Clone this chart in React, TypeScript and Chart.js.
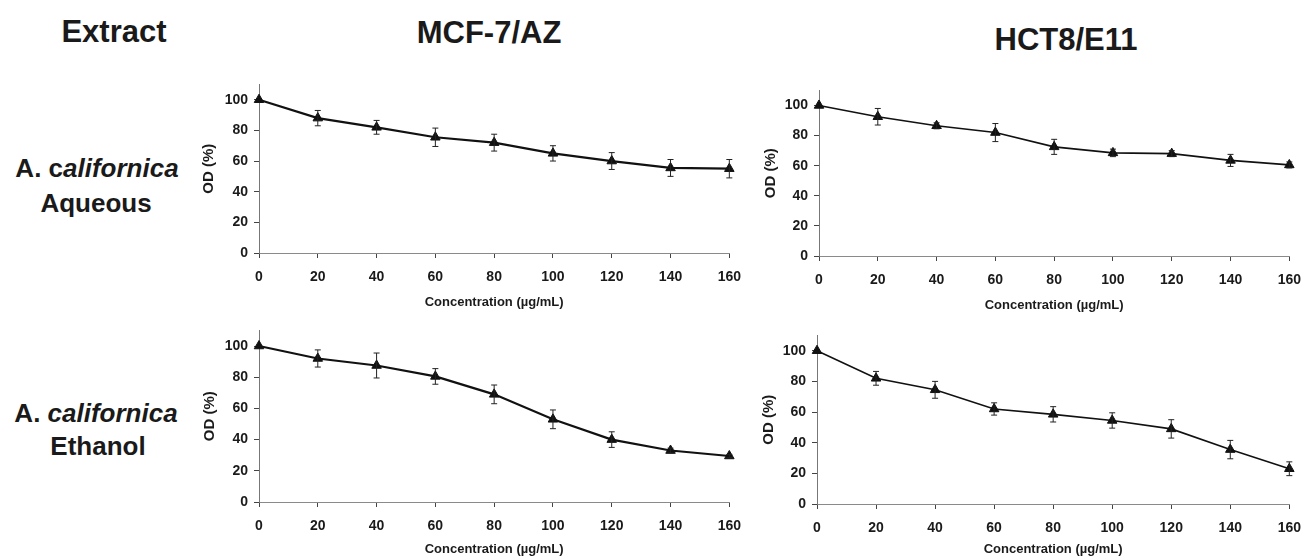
import React, { useEffect, useRef } from "react";
import { Chart, registerables } from "chart.js";

Chart.register(...registerables);

// ---------------- data ----------------
const concentrations = [0, 20, 40, 60, 80, 100, 120, 140, 160];

const mcfAqueous = [100, 88, 82, 75.5, 72, 65, 60, 55.5, 55];
const mcfAqueousErr = [0, 5, 4.5, 6, 5.5, 5, 5.5, 5.5, 6];

const hctAqueous = [100, 92.5, 86.5, 82, 72.5, 68.5, 68, 63.5, 60.5];
const hctAqueousErr = [0, 5.5, 2, 6, 5, 2.5, 2, 4, 2];

const mcfEthanol = [100, 92, 87.5, 80.5, 69, 53, 40, 33, 29.5];
const mcfEthanolErr = [0, 5.5, 8, 5, 6, 6, 5, 1.5, 1];

const hctEthanol = [100, 82, 74.5, 62, 58.5, 54.5, 49, 35.5, 23];
const hctEthanolErr = [0, 4.5, 5.5, 4, 5, 5, 6, 6, 4.5];

const columnTitles = ["MCF-7/AZ", "HCT8/E11"];
const xAxisTitle = "Concentration (\u00b5g/mL)";
const yAxisTitle = "OD (%)";

const FONT = '"Liberation Sans", Arial, Helvetica, sans-serif';

type PanelDef = {
  values: number[];
  errors: number[];
  L: number; // plot left (x = 0)
  R: number; // plot right (x = 160)
  T: number; // plot top (y = 110)
  B: number; // plot bottom (y = 0)
  YX: number; // y title centre x
  XT: number; // x title centre y
  lineWidth: number;
};

const panels: PanelDef[] = [
  { values: mcfAqueous, errors: mcfAqueousErr, L: 259, R: 737, T: 80, B: 253, YX: 209, XT: 302, lineWidth: 2.2 },
  { values: hctAqueous, errors: hctAqueousErr, L: 819, R: 1299, T: 85.5, B: 256, YX: 771, XT: 305, lineWidth: 1.6 },
  { values: mcfEthanol, errors: mcfEthanolErr, L: 259, R: 737, T: 326, B: 502, YX: 210, XT: 549, lineWidth: 2.2 },
  { values: hctEthanol, errors: hctEthanolErr, L: 817, R: 1297, T: 331, B: 504, YX: 769, XT: 549, lineWidth: 1.6 },
];

function Panel({ def }: { def: PanelDef }) {
  const ref = useRef<HTMLCanvasElement>(null);
  const CL = def.YX - 20;
  const CT = def.T - 10;
  const CR = Math.min(1312, def.R + 15);
  const CB = def.XT + 12;

  useEffect(() => {
    const canvas = ref.current;
    if (!canvas) return;
    const errorBars = {
      id: "errorBars",
      afterDatasetsDraw(chart: any) {
        const ctx = chart.ctx;
        const xs = chart.scales.x;
        const ys = chart.scales.y;
        ctx.save();
        ctx.strokeStyle = "#222";
        ctx.lineWidth = 1;
        concentrations.forEach((c, i) => {
          const e = def.errors[i];
          if (!e) return;
          const x = xs.getPixelForValue(c);
          const yt = ys.getPixelForValue(def.values[i] + e);
          const yb = ys.getPixelForValue(def.values[i] - e);
          ctx.beginPath();
          ctx.moveTo(x, yt);
          ctx.lineTo(x, yb);
          ctx.moveTo(x - 3, yt);
          ctx.lineTo(x + 3, yt);
          ctx.moveTo(x - 3, yb);
          ctx.lineTo(x + 3, yb);
          ctx.stroke();
        });
        ctx.restore();
      },
    };

    const tickFont = { family: FONT, size: 14, weight: "bold" as const };
    const chart = new Chart(canvas, {
      type: "line",
      data: {
        datasets: [
          {
            data: concentrations.map((x, i) => ({ x, y: def.values[i] })),
            borderColor: "#111",
            backgroundColor: "#111",
            borderWidth: def.lineWidth,
            pointStyle: "triangle",
            pointRadius: 5.5,
            pointBackgroundColor: "#111",
            pointBorderColor: "#111",
            pointBorderWidth: 1,
            tension: 0,
            clip: false as any,
          },
        ],
      },
      options: {
        animation: false,
        responsive: false,
        devicePixelRatio: 1,
        events: [],
        layout: { padding: { left: 0, top: 10, right: CR - def.R, bottom: 0 } },
        plugins: { legend: { display: false }, tooltip: { enabled: false } },
        scales: {
          x: {
            type: "linear",
            min: 0,
            max: 160,
            ticks: { stepSize: 20, font: tickFont, color: "#1a1a1a", padding: 11, maxRotation: 0, autoSkip: false },
            grid: { drawOnChartArea: false, drawTicks: true, tickLength: 5, color: "#444" },
            border: { display: true, color: "#8a8a8a", width: 1 },
            title: {
              display: true,
              text: xAxisTitle,
              font: { family: FONT, size: 13, weight: "bold" },
              color: "#1a1a1a",
              padding: { top: 0, bottom: 4 },
            },
            afterFit: (s: any) => {
              s.height = CB - def.B;
            },
          },
          y: {
            min: 0,
            max: 110,
            ticks: { stepSize: 20, includeBounds: false, font: tickFont, color: "#1a1a1a", padding: 6 },
            grid: { drawOnChartArea: false, drawTicks: true, tickLength: 5, color: "#444" },
            border: { display: true, color: "#777", width: 1 },
            title: {
              display: true,
              text: yAxisTitle,
              font: { family: FONT, size: 15, weight: "bold" },
              color: "#1a1a1a",
              padding: { top: 11, bottom: 0 },
            },
            afterFit: (s: any) => {
              s.width = def.L - CL;
            },
          },
        },
      },
      plugins: [errorBars],
    } as any);
    return () => chart.destroy();
  }, []);

  return (
    <canvas
      ref={ref}
      width={CR - CL}
      height={CB - CT}
      style={{ position: "absolute", left: CL, top: CT, width: CR - CL, height: CB - CT }}
    />
  );
}

function Label({ x, y, size, children }: { x: number; y: number; size: number; children: React.ReactNode }) {
  return (
    <div
      style={{
        position: "absolute",
        left: x,
        top: y,
        transform: "translate(-50%, -50%)",
        fontFamily: FONT,
        fontWeight: "bold",
        fontSize: size,
        lineHeight: 1,
        whiteSpace: "nowrap",
        color: "#1a1a1a",
      }}
    >
      {children}
    </div>
  );
}

export default function App() {
  return (
    <div
      style={{
        position: "absolute",
        left: 0,
        top: 0,
        width: 1312,
        height: 557,
        overflow: "hidden",
        background: "#fff",
      }}
    >
      <Label x={114} y={31} size={31}>Extract</Label>
      <Label x={489} y={32} size={31}>{columnTitles[0]}</Label>
      <Label x={1066} y={39} size={31}>{columnTitles[1]}</Label>

      <Label x={97} y={168} size={26}>
        A. c<i>alifornica</i>
      </Label>
      <Label x={96} y={203} size={26}>Aqueous</Label>

      <Label x={96} y={413} size={26}>
        A. <i>californica</i>
      </Label>
      <Label x={98} y={446} size={26}>Ethanol</Label>

      {panels.map((p, i) => (
        <Panel key={i} def={p} />
      ))}
    </div>
  );
}
